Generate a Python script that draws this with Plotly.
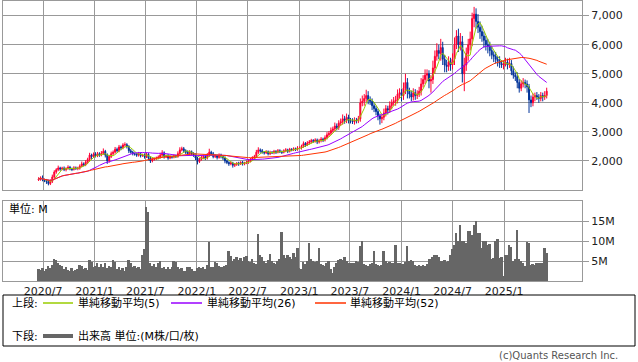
import plotly.graph_objects as go
import pandas as pd

W, H = 638, 362

# ---------------- data (weekly) ----------------
week_start = "2020-06-15"
first_open = 1350

closes = [
    1380, 1420, 1350, 1330, 1290, 1220, 1300, 1450, 1620, 1700,
    1760, 1720, 1750, 1700, 1740, 1780, 1730, 1710, 1760, 1740,
    1750, 1820, 1900, 1870, 1960, 2050, 2200, 2150, 2230, 2180,
    2250, 2200, 2260, 2330, 2200, 2000, 2150, 2250, 2300, 2400,
    2350, 2480, 2450, 2550, 2560, 2500, 2350, 2300, 2250, 2230,
    2200, 2250, 2180, 2200, 2150, 2230, 2100, 2000, 2050, 2080,
    2100, 2130, 2200, 2280, 2150, 2180, 2100, 2150, 2130, 2170,
    2150, 2250, 2380, 2420, 2350, 2300, 2250, 2320, 2250, 2200,
    2100, 1980, 2050, 2120, 2150, 2100, 2200, 2300, 2250, 2150,
    2180, 2120, 2200, 2150, 2100, 2000, 1950, 1900, 1930, 1850,
    1880, 1920, 1900, 1950, 1900, 1930, 1960, 2000, 2050, 2100,
    2150, 2300, 2380, 2350, 2300, 2280, 2320, 2250, 2300, 2280,
    2330, 2300, 2350, 2320, 2300, 2350, 2380, 2330, 2400, 2380,
    2420, 2400, 2450, 2450, 2500, 2600, 2550, 2620, 2650, 2700,
    2680, 2720, 2650, 2700, 2750, 2720, 2800, 2900, 2950, 3050,
    3100, 3200, 3150, 3300, 3350, 3450, 3400, 3500, 3400, 3380,
    3350, 3400, 3380, 3450, 4000, 4050, 4150, 4250, 4100, 4050,
    3900, 3800, 3700, 3550, 3450, 3500, 3650, 3800, 3750, 3900,
    4000, 4050, 4100, 4300, 4350, 4250, 4500, 4700, 4400, 4300,
    4200, 4350, 4250, 4300, 4400, 4650, 4800, 4950, 5000, 4750,
    4800, 5200, 5600, 5800, 5700, 5900, 5500, 5300, 5250, 5400,
    5300, 5500, 6000, 6300, 6000, 6100, 5000, 5300, 5700, 6000,
    6200, 6900, 7050, 6800, 6600, 6450, 6300, 6150, 6000, 5950,
    5800, 5650, 5600, 5500, 5450, 5350, 5300, 5350, 5400, 5300,
    5350, 5100, 4950, 4900, 4700, 4500, 4650, 4700, 4650, 4550,
    4100, 4000, 4200, 4250, 4200, 4150, 4250, 4200, 4250, 4400,
]

upper_wick = [
    60, 50, 80, 40, 50, 60, 70, 80, 60, 50,
    80, 40, 50, 60, 40, 70, 50, 40, 60, 50,
    50, 60, 80, 50, 70, 60, 80, 50, 60, 70,
    60, 50, 80, 100, 50, 60, 50, 70, 60, 80,
    60, 70, 50, 60, 80, 50, 40, 60, 50, 40,
    50, 60, 40, 50, 60, 50, 40, 60, 50, 40,
    50, 60, 80, 90, 50, 40, 60, 50, 40, 60,
    50, 80, 90, 70, 60, 50, 60, 50, 40, 50,
    60, 50, 60, 50, 60, 50, 70, 120, 50, 60,
    50, 40, 60, 50, 40, 60, 50, 40, 50, 40,
    50, 40, 50, 40, 50, 40, 50, 60, 50, 60,
    60, 80, 90, 50, 60, 40, 50, 40, 50, 40,
    50, 40, 60, 50, 40, 50, 60, 40, 50, 40,
    50, 40, 60, 50, 60, 70, 50, 60, 70, 60,
    50, 60, 50, 60, 70, 50, 80, 90, 80, 100,
    80, 120, 90, 100, 110, 150, 100, 130, 90, 80,
    90, 100, 80, 100, 150, 200, 150, 200, 150, 120,
    100, 120, 100, 90, 80, 100, 150, 120, 100, 150,
    120, 150, 140, 160, 150, 120, 200, 300, 150, 120,
    120, 150, 120, 130, 150, 200, 150, 200, 150, 120,
    150, 250, 200, 250, 200, 300, 200, 150, 180, 200,
    150, 200, 250, 200, 250, 300, 200, 250, 200, 200,
    250, 200, 250, 200, 250, 200, 200, 150, 150, 200,
    150, 150, 120, 150, 100, 150, 120, 100, 150, 120,
    200, 120, 150, 100, 150, 120, 120, 150, 100, 120,
    100, 150, 120, 100, 120, 100, 120, 100, 150, 120,
]

lower_wick = [
    40, 60, 50, 60, 80, 60, 50, 60, 50, 60,
    50, 60, 40, 50, 60, 40, 50, 60, 40, 50,
    60, 50, 40, 60, 50, 70, 60, 80, 50, 60,
    50, 60, 40, 50, 80, 100, 60, 50, 60, 50,
    60, 50, 80, 50, 60, 70, 80, 50, 60, 50,
    60, 50, 60, 40, 70, 50, 80, 70, 50, 40,
    50, 40, 50, 60, 70, 50, 60, 40, 50, 40,
    50, 40, 60, 50, 70, 60, 50, 60, 50, 60,
    70, 100, 50, 40, 60, 70, 50, 60, 70, 60,
    50, 70, 40, 60, 70, 80, 60, 70, 50, 80,
    60, 50, 70, 40, 60, 50, 40, 60, 50, 40,
    50, 40, 60, 70, 50, 60, 40, 60, 50, 40,
    50, 60, 40, 50, 60, 40, 50, 60, 40, 50,
    40, 60, 50, 40, 60, 50, 70, 40, 60, 50,
    60, 50, 70, 50, 60, 70, 50, 60, 70, 60,
    80, 70, 100, 80, 90, 100, 120, 100, 110, 90,
    80, 100, 90, 80, 100, 120, 150, 130, 150, 120,
    150, 120, 130, 150, 200, 150, 100, 120, 150, 100,
    120, 100, 150, 120, 150, 200, 150, 200, 250, 150,
    150, 120, 150, 120, 100, 150, 120, 150, 200, 250,
    400, 150, 200, 150, 200, 250, 200, 250, 200, 150,
    200, 150, 200, 150, 250, 200, 300, 600, 200, 250,
    200, 250, 300, 250, 200, 250, 200, 250, 200, 250,
    200, 150, 200, 150, 200, 150, 100, 150, 100, 150,
    100, 150, 120, 150, 200, 150, 100, 120, 150, 200,
    450, 150, 120, 150, 100, 150, 100, 150, 100, 100,
]

volume_m = [
    3.0, 2.8, 3.2, 2.5, 3.0, 3.7, 3.2, 4.0, 5.5, 5.2,
    4.5, 4.0, 3.8, 3.0, 3.5, 2.8, 2.5, 3.2, 2.6, 2.8,
    3.0, 4.0, 3.8, 3.0, 3.2, 2.8, 5.2, 4.8, 3.5, 3.8,
    4.5, 3.6, 4.2, 3.5, 4.5, 3.2, 3.8, 3.4, 5.2, 4.8,
    3.0, 3.4, 2.8, 3.2, 2.5, 3.6, 5.2, 4.4, 3.5, 3.8,
    3.2, 3.6, 3.0, 6.5, 7.9, 18.5, 17.2, 4.5, 3.8, 4.2,
    3.5, 4.4, 5.0, 3.2, 3.5, 3.0, 3.4, 3.0, 3.6, 5.0,
    4.8, 3.4, 3.0, 3.2, 2.5, 2.4, 3.5, 3.6, 3.0, 2.6,
    2.5, 3.2, 3.5, 3.3, 3.6, 3.0, 4.0, 9.8, 3.4, 3.6,
    4.8, 4.5, 3.8, 3.6, 3.5, 3.8, 4.0, 7.5, 6.2, 5.0,
    5.5, 6.0, 5.2, 5.8, 5.0, 6.0, 6.3, 5.0, 4.8, 5.4,
    4.6, 4.2, 11.7, 6.5, 6.0, 5.0, 4.6, 5.2, 6.7, 5.0,
    4.5, 4.2, 5.0, 5.5, 12.3, 6.5, 5.8, 6.5, 6.0, 5.5,
    7.0, 6.0, 8.2, 3.2, 3.0, 4.8, 4.2, 5.0, 9.5, 5.5,
    5.0, 4.8, 5.0, 8.3, 4.2, 4.0, 3.8, 4.6, 5.0, 3.0,
    2.0, 3.5, 4.5, 5.2, 5.5, 5.2, 6.0, 5.0, 4.5, 4.4,
    4.6, 4.5, 5.0, 4.8, 8.8, 10.0, 4.2, 4.0, 3.8, 4.2,
    4.4, 7.5, 4.2, 4.0, 3.8, 4.0, 7.5, 5.0, 4.5, 4.8,
    4.4, 4.5, 9.0, 4.6, 4.5, 4.2, 4.3, 4.8, 8.8, 5.0,
    5.2, 5.0, 4.0, 3.8, 4.0, 3.7, 4.0, 3.8, 4.2, 5.5,
    5.5, 6.0, 6.5, 6.5, 6.0, 5.0, 5.0, 5.2, 4.8, 5.0,
    6.5, 8.0, 9.0, 12.0, 10.0, 14.0, 10.0, 10.0, 9.5, 12.5,
    12.5, 11.5, 14.0, 15.0, 12.0, 12.0, 8.3, 10.0, 10.0, 9.0,
    9.2, 5.5, 5.8, 10.0, 10.5, 5.8, 6.0, 1.2, 6.5, 6.5,
    9.0, 8.5, 5.0, 5.5, 12.8, 5.5, 5.0, 4.6, 3.8, 9.8,
    9.5, 4.0, 4.2, 4.0, 4.5, 4.5, 4.6, 4.5, 8.2, 7.0,
]

price_ticks = [2000, 3000, 4000, 5000, 6000, 7000]
price_tick_labels = ["2,000", "3,000", "4,000", "5,000", "6,000", "7,000"]
vol_ticks = [5, 10, 15]
vol_tick_labels = ["5M", "10M", "15M"]
date_ticks = ["2020-07-01", "2021-01-01", "2021-07-01", "2022-01-01", "2022-07-01",
              "2023-01-01", "2023-07-01", "2024-01-01", "2024-07-01", "2025-01-01"]
date_tick_labels = ["2020/7", "2021/1", "2021/7", "2022/1", "2022/7",
                    "2023/1", "2023/7", "2024/1", "2024/7", "2025/1"]

ma_periods = [5, 26, 52]
ma_names = ["単純移動平均(5)", "単純移動平均(26)", "単純移動平均(52)"]
ma_colors = ["#99cc00", "#9900ff", "#ff3300"]

# ---------------- derived ----------------
n = len(closes)
dates = pd.date_range(week_start, periods=n, freq="7D")
opens = [first_open] + closes[:-1]
highs = [max(o, c) + u for o, c, u in zip(opens, closes, upper_wick)]
lows = [min(o, c) - l for o, c, l in zip(opens, closes, lower_wick)]
s = pd.Series(closes, dtype=float)

def px(x):
    return x / W

def py(y):
    return 1 - y / H

FONT = "DejaVu Sans, Noto Sans CJK JP, sans-serif"
GRID = "#999999"
x_range = ["2020-02-09", "2025-10-06"]

fig = go.Figure()
fig.add_trace(go.Candlestick(
    x=dates, open=opens, high=highs, low=lows, close=closes,
    increasing=dict(line=dict(color="#ff0033", width=1), fillcolor="#ff0033"),
    decreasing=dict(line=dict(color="#003399", width=1), fillcolor="#003399"),
    whiskerwidth=0, showlegend=False, xaxis="x", yaxis="y",
))
for p, name, col in zip(ma_periods, ma_names, ma_colors):
    fig.add_trace(go.Scatter(
        x=dates, y=s.rolling(p, min_periods=1).mean(), mode="lines",
        line=dict(color=col, width=1), name=name, showlegend=False,
        xaxis="x", yaxis="y",
    ))
fig.add_trace(go.Bar(
    x=dates, y=volume_m, marker=dict(color="#666666", line=dict(width=0)),
    showlegend=False, xaxis="x2", yaxis="y2",
))

x_dom = [px(3), px(582)]
axis_common = dict(showline=True, linecolor=GRID, linewidth=1, mirror=True,
                   showgrid=True, gridcolor=GRID, gridwidth=1, zeroline=False,
                   tickfont=dict(family=FONT, size=11, color="#222222"))

fig.update_layout(
    width=W, height=H, margin=dict(l=0, r=0, t=0, b=0),
    paper_bgcolor="white", plot_bgcolor="white",
    bargap=0, showlegend=False,
    xaxis=dict(domain=x_dom, range=x_range, type="date", anchor="y",
               tickvals=date_ticks, ticktext=date_tick_labels, showticklabels=False,
               ticks="", rangeslider=dict(visible=False), **axis_common),
    yaxis=dict(domain=[py(190), py(0.5)], range=[1000, 7520], side="right",
               anchor="x", tickvals=price_ticks, ticktext=price_tick_labels,
               ticks="outside", ticklen=6, tickcolor=GRID, **axis_common),
    xaxis2=dict(domain=x_dom, range=x_range, type="date", anchor="y2",
                tickvals=date_ticks, ticktext=date_tick_labels, ticks="",
                **axis_common),
    yaxis2=dict(domain=[py(281), py(201)], range=[0, 20], side="right",
                anchor="x2", tickvals=vol_ticks, ticktext=vol_tick_labels,
                ticks="outside", ticklen=6, tickcolor=GRID, **axis_common),
)

shapes = [
    dict(type="rect", xref="paper", yref="paper", x0=px(3), x1=px(635),
         y0=py(346), y1=py(295), line=dict(color="black", width=1)),
    dict(type="line", xref="paper", yref="paper", x0=px(43), x1=px(73),
         y0=py(303), y1=py(303), line=dict(color=ma_colors[0], width=1.5)),
    dict(type="line", xref="paper", yref="paper", x0=px(171), x1=px(202),
         y0=py(303), y1=py(303), line=dict(color=ma_colors[1], width=1.5)),
    dict(type="line", xref="paper", yref="paper", x0=px(315), x1=px(346),
         y0=py(303), y1=py(303), line=dict(color=ma_colors[2], width=1.5)),
    dict(type="line", xref="paper", yref="paper", x0=px(43), x1=px(73),
         y0=py(336), y1=py(336), line=dict(color="#666666", width=4)),
]
fig.update_layout(shapes=shapes)

def note(x, y, text, size=11, color="black", xanchor="left"):
    fig.add_annotation(x=px(x), y=py(y), xref="paper", yref="paper", text=text,
                       showarrow=False, xanchor=xanchor, yanchor="middle",
                       font=dict(family=FONT, size=size, color=color))

note(7, 209, "単位: M")
note(10, 303, "上段:")
note(76, 303, ma_names[0])
note(205, 303, ma_names[1])
note(348, 303, ma_names[2])
note(10, 336, "下段:")
note(76, 336, "出来高 単位:(M株/口/枚)")
note(620, 355, "(c)Quants Research Inc.", size=10, color="#555555", xanchor="right")

fig.write_html("out.html", config={"displayModeBar": False},
               post_script="document.body.style.margin='0';document.body.style.overflow='hidden';")
